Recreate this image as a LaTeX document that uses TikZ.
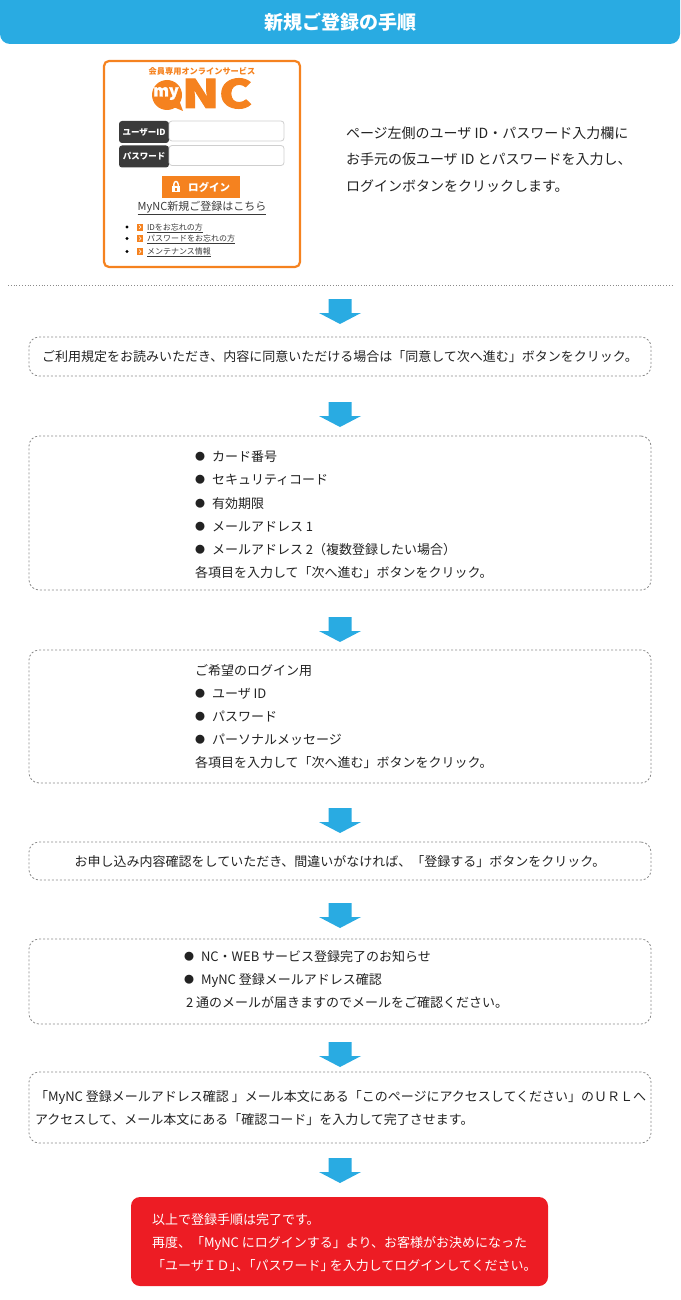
\documentclass[tikz,border=0pt]{standalone}
\usepackage{fontspec}
\setmainfont{Noto Sans CJK JP}
\definecolor{hblue}{HTML}{29ABE2}
\definecolor{orng}{HTML}{F5821F}
\definecolor{rred}{HTML}{ED1C24}
\definecolor{bgray}{HTML}{8A8A8A}
\definecolor{txt}{HTML}{222222}
\definecolor{dgray}{HTML}{3A3A3A}
\definecolor{fgray}{HTML}{CFCFCF}
\newcommand{\fs}[1]{\fontsize{#1}{#1}\selectfont}
\newcommand{\bul}{\raisebox{1pt}{\fs{10}●}\hspace{7pt}}
\tikzset{
  every node/.style={inner sep=0pt, outer sep=0pt, text=txt},
  ln/.style={anchor=base west, font=\fs{13}},
  cln/.style={anchor=base, font=\fs{13}},
  stepbox/.style={draw=bgray, dash pattern=on 2pt off 2pt, line width=0.8pt, rounded corners=10pt, anchor=north west},
  downarrow/.pic={\fill[hblue] (-11.5,0) -- (11.5,0) -- (11.5,14) -- (21,14) -- (0,25) -- (-21,14) -- (-11.5,14) -- cycle;},
  lbl/.style={fill=dgray, rounded corners=3pt, anchor=north west, text=white, font=\fs{8.5}\bfseries},
  inbox/.style={draw=fgray, fill=white, rounded corners=3pt, line width=0.8pt, anchor=north west},
  sqmark/.style={fill=orng, minimum width=6pt, minimum height=7pt},
  lnk/.style={anchor=base west, font=\fs{8}, text=dgray},
}
\begin{document}
\begin{tikzpicture}[x=1pt,y=-1pt]
\useasboundingbox (0,0) rectangle (680,1300);
% header
\begin{scope}
\clip (0,0) rectangle (680,44);
\fill[hblue, rounded corners=10pt] (0,-20) rectangle (680,44);
\end{scope}
\node[text=white, font=\fs{19}\bfseries] (title) at (340,22) {新規ご登録の手順};

% login panel
\node[draw=orng, line width=2.2pt, rounded corners=5pt, minimum width=196pt, minimum height=206pt, anchor=north west] (panel) at (104,61) {};
\node[text=orng, font=\fs{8.2}\bfseries] (svc) at (202,71) {会員専用オンラインサービス};
\fill[orng] (167,95) circle (15);
\fill[orng] (171,106) -- (179,100) -- (183,111) -- cycle;
\node[text=white, font=\fs{16}\bfseries\addfontfeatures{FakeBold=1.5}] (my) at (166,93.5) {my};
\node[text=orng, font=\fs{39}\bfseries\addfontfeatures{FakeBold=2.5}, anchor=base west] (nc) at (182,108) {\scalebox{1.25}[1]{NC}};
\node[lbl, minimum width=50pt, minimum height=22pt] (ulbl) at (119,121) {};
\node[text=white, font=\fs{8.5}\bfseries] at (ulbl.center) {ユーザーID};
\node[inbox, minimum width=115pt, minimum height=20pt] (uin) at (169,121) {};
\node[lbl, minimum width=50pt, minimum height=22pt] (plbl) at (119,145.5) {};
\node[text=white, font=\fs{8.5}\bfseries] at (plbl.center) {パスワード};
\node[inbox, minimum width=115pt, minimum height=20pt] (pin) at (169,145.5) {};
\node[fill=orng, minimum width=78pt, minimum height=22pt, anchor=north west] (btn) at (162,176) {};
\fill[white] (172,186) rectangle (180,192.5);
\draw[white, line width=1.4pt] (173.8,186.5) -- (173.8,184.5) .. controls (173.8,180.5) and (178.2,180.5) .. (178.2,184.5) -- (178.2,186.5);
\fill[orng] (175.3,188) rectangle (176.7,191);
\node[text=white, font=\fs{10.5}\bfseries] (btntxt) at (209,187) {ログイン};
\node[text=dgray, font=\fs{11}] (reg) at (202,208) {\underline{MyNC新規ご登録はこちら}};
\foreach \yy/\tt [count=\i] in {227/IDをお忘れの方, 238.5/パスワードをお忘れの方, 251.5/メンテナンス情報}{
  \fill[black] (127,\yy) circle (1.6);
  \node[sqmark] (sq\i) at (140,\yy) {};
  \draw[white, line width=0.7pt] (139,\yy-2) -- (141,\yy) -- (139,\yy+2);
  \node[lnk] (lk\i) at (147,\yy+3) {\underline{\tt}};
}
% right text
\node[anchor=base west, font=\fs{14}] (r1) at (346,139) {ページ左側のユーザ ID・パスワード入力欄に};
\node[anchor=base west, font=\fs{14}] (r2) at (346,165) {お手元の仮ユーザ ID とパスワードを入力し、};
\node[anchor=base west, font=\fs{14}] (r3) at (346,191) {ログインボタンをクリックします。};

% separator
\draw[bgray, dotted, line width=0.8pt] (8,285) -- (672,285);

% arrows
\foreach \ay in {299,402,617,808,903,1042,1158}{ \pic at (340,\ay) {downarrow}; }

% box 1
\node[stepbox, minimum width=622pt, minimum height=39pt] (b1) at (29,337) {};
\node[cln] (b1t) at (340,361) {ご利用規定をお読みいただき、内容に同意いただける場合は「同意して次へ進む」ボタンをクリック。};

% box 2
\node[stepbox, minimum width=622pt, minimum height=154pt] (b2) at (29,436) {};
\node[ln] (b2a) at (195,461) {\bul カード番号};
\node[ln] (b2b) at (195,484) {\bul セキュリティコード};
\node[ln] (b2c) at (195,508) {\bul 有効期限};
\node[ln] (b2d) at (195,531) {\bul メールアドレス 1};
\node[ln] (b2e) at (195,554) {\bul メールアドレス 2（複数登録したい場合）};
\node[ln] (b2f) at (195,577) {各項目を入力して「次へ進む」ボタンをクリック。};

% box 3
\node[stepbox, minimum width=622pt, minimum height=133pt] (b3) at (29,650) {};
\node[ln] (b3a) at (195,675) {ご希望のログイン用};
\node[ln] (b3b) at (195,698) {\bul ユーザ ID};
\node[ln] (b3c) at (195,721) {\bul パスワード};
\node[ln] (b3d) at (195,744) {\bul パーソナルメッセージ};
\node[ln] (b3e) at (195,767) {各項目を入力して「次へ進む」ボタンをクリック。};

% box 4
\node[stepbox, minimum width=622pt, minimum height=38pt] (b4) at (29,842) {};
\node[cln] (b4t) at (340,866) {お申し込み内容確認をしていただき、間違いがなければ、「登録する」ボタンをクリック。};

% box 5
\node[stepbox, minimum width=622pt, minimum height=85pt] (b5) at (29,939) {};
\node[ln] (b5a) at (184,961) {\bul NC・WEB サービス登録完了のお知らせ};
\node[ln] (b5b) at (184,984) {\bul MyNC 登録メールアドレス確認};
\node[ln] (b5c) at (186,1007) {2 通のメールが届きますのでメールをご確認ください。};

% box 6
\node[stepbox, minimum width=622pt, minimum height=71pt] (b6) at (29,1072) {};
\node[ln] (b6a) at (35,1101) {「MyNC 登録メールアドレス確認 」メール本文にある「このページにアクセスしてください」のＵＲＬへ};
\node[ln] (b6b) at (35,1124) {アクセスして、メール本文にある「確認コード」を入力して完了させます。};

% red box
\node[fill=rred, rounded corners=9pt, minimum width=417pt, minimum height=89pt, anchor=north west] (red) at (131,1197) {};
\node[ln, text=white] (ra) at (152,1224) {以上で登録手順は完了です。};
\node[ln, text=white] (rb) at (152,1247) {再度、「MyNC にログインする」より、お客様がお決めになった};
\node[ln, text=white] (rc) at (152,1270) {「ユーザＩＤ」\hspace{-6.5pt}、\hspace{-6.5pt}「パスワード」\hspace{-4pt}を入力してログインしてください。};
\end{tikzpicture}
\end{document}
